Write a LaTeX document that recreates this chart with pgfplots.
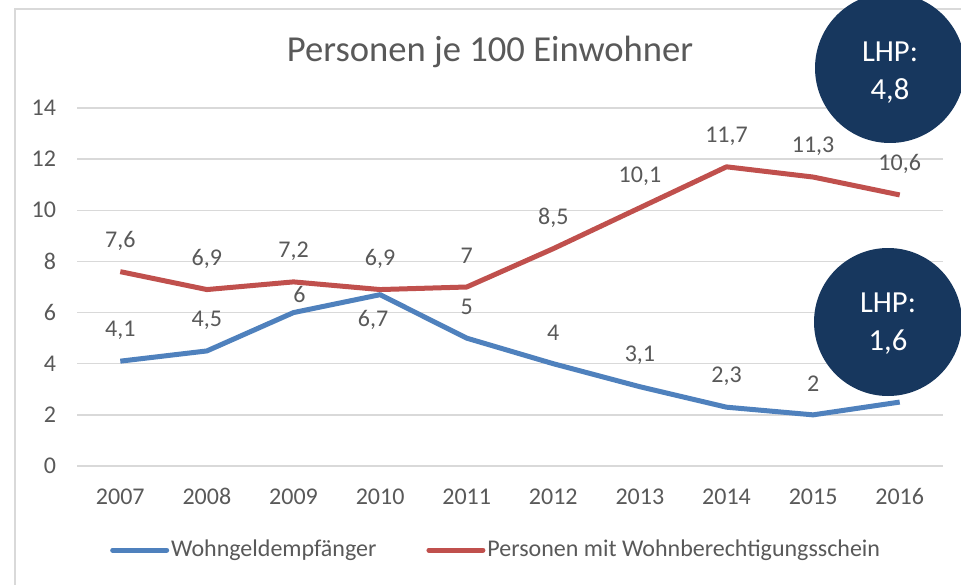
\documentclass[border=0pt]{standalone}
\usepackage{pgfplots}
\pgfplotsset{compat=1.18}
\usepackage{fontspec}
\setmainfont{Carlito}
\definecolor{tickgray}{HTML}{595959}
\definecolor{gridgray}{HTML}{D9D9D9}
\definecolor{sblue}{HTML}{4F81BD}
\definecolor{sred}{HTML}{C0504D}
\definecolor{navy}{HTML}{17375E}
\begin{document}
\begin{tikzpicture}
\useasboundingbox (0pt,0pt) rectangle (480.5pt,292pt);
\clip (0pt,0pt) rectangle (480.5pt,292pt);
\fill[white] (0pt,0pt) rectangle (480.5pt,292pt);
\begin{scope}[x=0.5pt,y=0.5pt]
\draw[gridgray, line width=1pt] (15,-10) -- (15,575) -- (1000,575);
\end{scope}
\begin{axis}[
  at={(38.5pt,59pt)}, anchor=south west,
  scale only axis, width=433pt, height=179pt,
  xmin=2006.5, xmax=2016.5, ymin=0, ymax=14,
  xtick={2007,2008,...,2016}, ytick={0,2,...,14},
  /pgf/number format/assume math mode=true,
  /pgf/number format/use comma,
  /pgf/number format/1000 sep={},
  ymajorgrids, grid style={draw=gridgray, line width=0.75pt},
  axis line style={draw=none}, tick style={draw=none},
  tick label style={font=\fontsize{12}{14}\selectfont, text=tickgray},
  yticklabel style={xshift=-7pt},
  xticklabel style={text height=7.6pt, text depth=0pt, yshift=-8pt},
  legend style={at={(0.484,-0.235)}, anchor=center, draw=none, fill=none,
    legend columns=2, font=\fontsize{12}{14}\selectfont, text=tickgray,
    /tikz/every even column/.append style={column sep=24pt},
    nodes={inner sep=1pt}},
  legend cell align=left,
  legend image code/.code={\draw[line width=2.5pt, line cap=round] (0pt,0pt) -- (27pt,0pt);},
  clip=false,
]
\addplot[sblue, line width=2.5pt, line join=round] coordinates {
(2007,4.1) (2008,4.5) (2009,6) (2010,6.7) (2011,5) (2012,4) (2013,3.1) (2014,2.3) (2015,2) (2016,2.5)};
\addlegendentry{Wohngeldempfänger}
\addplot[sred, line width=2.5pt, line join=round] coordinates {
(2007,7.6) (2008,6.9) (2009,7.2) (2010,6.9) (2011,7) (2012,8.5) (2013,10.1) (2014,11.7) (2015,11.3) (2016,10.6)};
\addlegendentry{Personen mit Wohnberechtigungsschein}
% data labels
\addplot[draw=none, mark=none, forget plot, nodes near coords,
  nodes near coords style={anchor=center, yshift=15.5pt, font=\fontsize{12}{14}\selectfont, text=tickgray}]
  coordinates {(2007,4.1) (2008,4.5) (2011,5) (2012,4) (2013,3.1) (2014,2.3) (2015,2) (2016,2.5)};
\addplot[draw=none, mark=none, forget plot, nodes near coords,
  nodes near coords style={anchor=center, xshift=3pt, yshift=9pt, font=\fontsize{12}{14}\selectfont, text=tickgray}]
  coordinates {(2009,6)};
\addplot[draw=none, mark=none, forget plot, nodes near coords,
  nodes near coords style={anchor=center, xshift=-3.5pt, yshift=-12.5pt, font=\fontsize{12}{14}\selectfont, text=tickgray}]
  coordinates {(2010,6.7)};
\addplot[draw=none, mark=none, forget plot, nodes near coords,
  nodes near coords style={anchor=center, yshift=15.5pt, font=\fontsize{12}{14}\selectfont, text=tickgray}]
  coordinates {(2007,7.6) (2008,6.9) (2009,7.2) (2010,6.9) (2011,7) (2012,8.5) (2013,10.1) (2014,11.7) (2015,11.3) (2016,10.6)};
\end{axis}
\begin{scope}[x=0.5pt,y=0.5pt]
\node[text=tickgray, font=\fontsize{18.3}{22}\selectfont] at (490,532) {Personen je 100 Einwohner};
\fill[navy] (890,516) circle (75);
\node[text=white, font=\fontsize{15.3}{18}\selectfont, align=center] at (890,511) {LHP:\\[1pt]4,8};
\fill[navy] (888,262) circle (74);
\node[text=white, font=\fontsize{15.3}{18}\selectfont, align=center] at (888,260) {LHP:\\[1pt]1,6};
\end{scope}
\end{tikzpicture}
\end{document}
